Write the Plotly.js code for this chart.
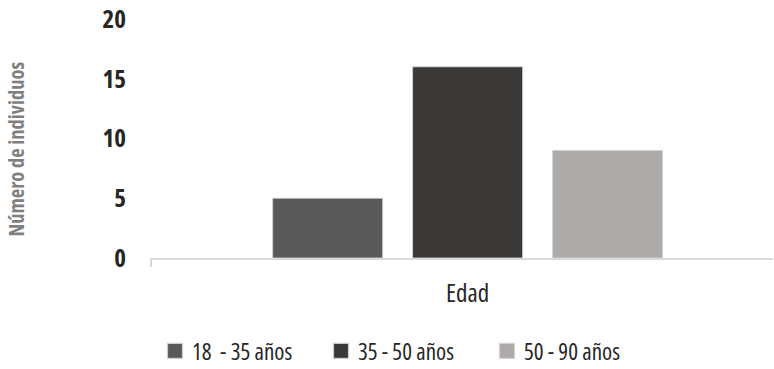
<!DOCTYPE html>
<html>
<head>
<meta charset="utf-8">
<script src="https://cdn.plot.ly/plotly-3.0.1.min.js"></script>
<style>
  html, body { margin: 0; padding: 0; background: #ffffff; }
  #chart { width: 774px; height: 369px; }
  /* condensed letterforms for every label (also applies to Plotly's measuring svg) */
  svg text { font-stretch: 75% !important; }
  /* slightly larger legend swatches */
  #chart .legendpoints path { transform: translate(23px, 0px) scale(1.25); }
</style>
</head>
<body>
<div id="chart"></div>
<script>
// Age groups and number of individuals in each
const categories = ["Edad"];
const seriesNames = ["18\u00a0 - 35 años", "35 - 50 años", "50 - 90 años"];
const seriesValues = [[5], [16], [9]];
const seriesColors = ["#595959", "#3b3838", "#aeaaaa"];
const yTickValues = [0, 5, 10, 15, 20];
const yTitle = "Número de individuos";

const FONT = "'Open Sans', sans-serif";

const traces = seriesNames.map((name, i) => ({
  type: "bar",
  name: name,
  x: categories,
  y: seriesValues[i],
  marker: {
    color: seriesColors[i],
    line: { color: "rgba(210,210,210,0.85)", width: 1 }
  },
  hoverinfo: "name+y"
}));

const layout = {
  width: 774,
  height: 369,
  margin: { l: 151, r: 1, t: 19, b: 111, pad: 0, autoexpand: false },
  paper_bgcolor: "#ffffff",
  plot_bgcolor: "#ffffff",
  barmode: "group",
  bargap: 0.325,
  bargroupgap: 0.214,
  showlegend: true,
  font: { family: FONT, color: "#262626" },
  xaxis: {
    type: "category",
    range: [-0.509, 0.491],
    showline: true,
    linecolor: "#d9d9d9",
    linewidth: 2,
    showgrid: false,
    zeroline: false,
    ticks: "",
    ticklabelstandoff: 12,
    ticklabeloverflow: "allow",
    tickfont: { family: FONT, size: 25, color: "#262626" },
    fixedrange: true
  },
  yaxis: {
    range: [0, 20],
    tickvals: yTickValues,
    ticktext: yTickValues.map(String),
    showline: false,
    showgrid: false,
    zeroline: false,
    ticks: "",
    ticklabelstandoff: 24,
    ticklabeloverflow: "allow",
    tickfont: { family: FONT, size: 25, weight: "bold", color: "#262626" },
    fixedrange: true
  },
  legend: {
    orientation: "h",
    x: 0.0016,
    xanchor: "left",
    y: -0.389,
    yanchor: "middle",
    entrywidth: 121,
    entrywidthmode: "pixels",
    font: { family: FONT, size: 23, color: "#262626" },
    itemclick: false,
    itemdoubleclick: false,
    bgcolor: "rgba(0,0,0,0)"
  },
  annotations: [{
    text: yTitle,
    textangle: -90,
    xref: "paper",
    yref: "paper",
    x: -(151 - 15.5) / 622,
    y: (258 - 149) / 239,
    xanchor: "center",
    yanchor: "middle",
    showarrow: false,
    font: { family: FONT, size: 20.5, weight: "bold", color: "#7f7f7f" }
  }],
  shapes: [{
    type: "line",
    xref: "paper",
    yref: "paper",
    x0: 0, x1: 0,
    y0: 0, y1: -0.0377,
    line: { color: "#d9d9d9", width: 2 }
  }]
};

Plotly.newPlot("chart", traces, layout, { displayModeBar: false, staticPlot: false });
</script>
</body>
</html>
